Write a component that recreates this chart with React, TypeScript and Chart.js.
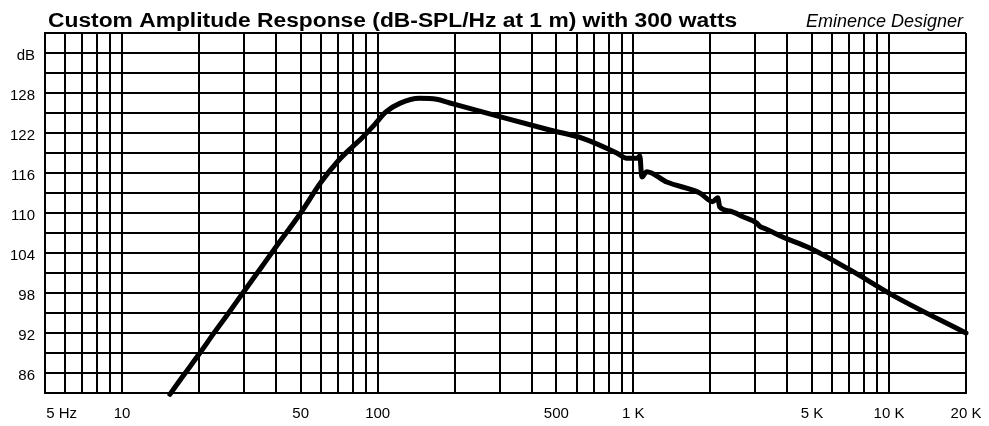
import React, { useEffect, useRef } from "react";
import { Chart, registerables } from "chart.js";

Chart.register(...registerables);

const titleText = "Custom Amplitude Response (dB-SPL/Hz at 1 m) with 300 watts";
const brandText = "Eminence Designer";

const freqHz = [
  15.4, 17.3, 20, 23.1, 26, 29.7, 35, 40, 50, 60, 70, 80, 87, 97.5, 108, 122,
  146, 170, 191.5, 300, 471, 634, 861, 942, 1040, 1060, 1079, 1128, 1351, 1819,
  2043, 2138, 2178, 2382, 2700, 3035, 3120, 3300, 3836, 4895, 7015, 10520, 20000,
];
const splDb = [
  82.8, 85.5, 88.8, 92.2, 94.9, 98, 101.8, 104.9, 110, 114.6, 117.8, 120.0,
  121.3, 123.3, 125.2, 126.45, 127.2, 127.05, 126.5, 124.45, 122.45, 121.2, 119,
  118.2, 118.2, 118.6, 115.4, 116.2, 114.65, 113, 111.7, 112.3, 110.9, 110.3,
  109.4, 108.5, 108.0, 107.6, 106.4, 104.75, 101.5, 97.5, 92,
];

const xGridValues = [
  5, 6, 7, 8, 9, 10, 20, 30, 40, 50, 60, 70, 80, 90, 100, 200, 300, 400, 500,
  600, 700, 800, 900, 1000, 2000, 3000, 4000, 5000, 6000, 7000, 8000, 9000,
  10000, 20000,
];
const xLabelValues = [5, 10, 50, 100, 500, 1000, 5000, 10000, 20000];
const xLabelTexts = ["        5 Hz", "10", "50", "100", "500", "1 K", "5 K", "10 K", "20 K"];

const yGridValues = [
  83, 86, 89, 92, 95, 98, 101, 104, 107, 110, 113, 116, 119, 122, 125, 128, 131,
  134, 137,
];
const yLabelValues = [86, 92, 98, 104, 110, 116, 122, 128, 134];
const yLabelTexts = ["86", "92", "98", "104", "110", "116", "122", "128", "dB"];

const FONT = "'Liberation Sans', Arial, sans-serif";

export default function App() {
  const ref = useRef<HTMLCanvasElement | null>(null);

  useEffect(() => {
    if (!ref.current) return;
    const headerPlugin = {
      id: "header",
      afterDraw(chart: any) {
        const ctx = chart.ctx;
        ctx.save();
        ctx.fillStyle = "#000";
        ctx.textBaseline = "alphabetic";
        ctx.textAlign = "left";
        ctx.font = `bold 20px ${FONT}`;
        ctx.save();
        ctx.translate(48, 27);
        ctx.scale(1.14, 1);
        ctx.fillText(titleText, 0, 0);
        ctx.restore();
        ctx.textAlign = "right";
        ctx.font = `italic 18px ${FONT}`;
        ctx.fillText(brandText, 963, 27);
        ctx.restore();
      },
    };
    const chart = new Chart(ref.current, {
      type: "line",
      data: {
        datasets: [
          {
            data: freqHz.map((f, i) => ({ x: f, y: splDb[i] })),
            borderColor: "#000",
            borderWidth: 5,
            pointRadius: 0,
            cubicInterpolationMode: "monotone",
            borderCapStyle: "round",
            borderJoinStyle: "round",
            fill: false,
            clip: false,
          },
        ],
      },
      options: {
        animation: false,
        responsive: false,
        devicePixelRatio: 1,
        layout: { padding: { top: 33, right: 23, left: 0, bottom: 0 } },
        plugins: { legend: { display: false }, tooltip: { enabled: false }, title: { display: false } },
        scales: {
          x: {
            type: "logarithmic",
            min: 5,
            max: 20000,
            afterBuildTicks: (s: any) => {
              s.ticks = xGridValues.map((v) => ({ value: v }));
            },
            afterFit: (s: any) => {
              s.height = 33;
              s.paddingLeft = 0;
              s.paddingRight = 0;
            },
            grid: { color: "#000", lineWidth: 2, drawTicks: false },
            border: { color: "#000", width: 2 },
            ticks: {
              autoSkip: false,
              maxRotation: 0,
              minRotation: 0,
              padding: 12,
              color: "#000",
              font: { family: FONT, size: 15 },
              callback: (_v: any, i: number, ticks: any[]) => {
                const k = xLabelValues.indexOf(ticks[i].value);
                return k >= 0 ? xLabelTexts[k] : "";
              },
            },
          },
          y: {
            type: "linear",
            min: 83,
            max: 137,
            afterBuildTicks: (s: any) => {
              s.ticks = yGridValues.map((v) => ({ value: v }));
            },
            afterFit: (s: any) => {
              s.width = 45;
              s.paddingTop = 0;
              s.paddingBottom = 0;
            },
            grid: { color: "#000", lineWidth: 2, drawTicks: false },
            border: { color: "#000", width: 2 },
            ticks: {
              autoSkip: false,
              padding: 10,
              labelOffset: 3,
              color: "#000",
              font: { family: FONT, size: 15 },
              callback: (_v: any, i: number, ticks: any[]) => {
                const k = yLabelValues.indexOf(ticks[i].value);
                return k >= 0 ? yLabelTexts[k] : "";
              },
            },
          },
        },
      },
      plugins: [headerPlugin],
    } as any);
    return () => chart.destroy();
  }, []);

  return (
    <div style={{ position: "absolute", left: 0, top: 0, width: 989, height: 426, background: "#fff" }}>
      <canvas ref={ref} width={989} height={426} style={{ display: "block" }} />
    </div>
  );
}
